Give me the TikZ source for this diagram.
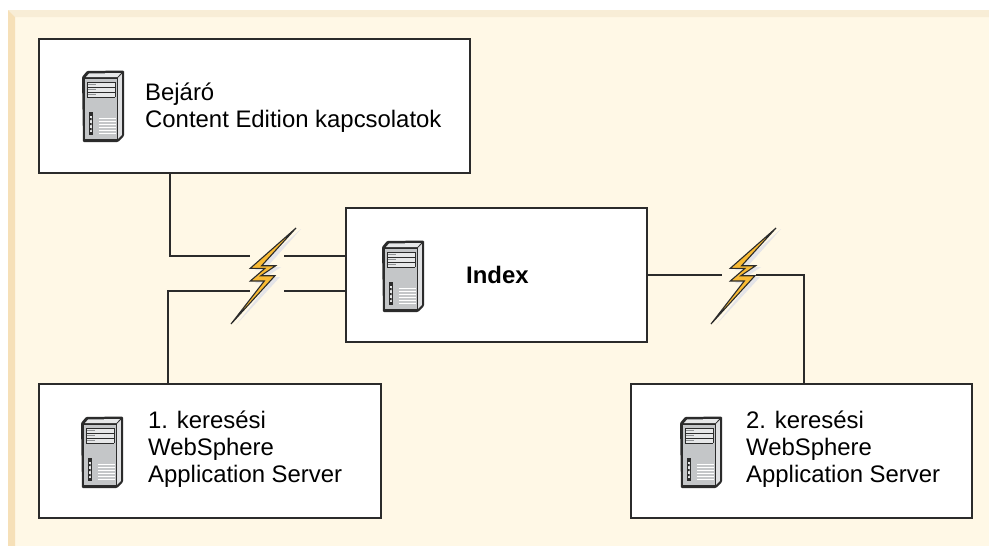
\documentclass[tikz,border=0pt]{standalone}
\usepackage{fontspec}
\setmainfont{Liberation Sans}
\definecolor{bgc}{HTML}{FFF8E6}
\definecolor{bevl}{HTML}{F6E0B8}
\definecolor{bevt}{HTML}{F8EDD6}
\definecolor{linec}{HTML}{2B2B2B}
\definecolor{bolt}{HTML}{F9BB35}
\definecolor{boltsh}{HTML}{E4E4E8}
\definecolor{srv}{HTML}{C4C6C8}
\definecolor{srvl}{HTML}{E6E7E8}
\definecolor{srvd}{HTML}{8E9092}
\tikzset{
  box/.style={draw=linec,line width=2.2pt,fill=white,minimum width=#1,inner sep=0pt,outer sep=0pt,minimum height=134pt,anchor=north west},
  link/.style={draw=linec,line width=1.8pt},
  lbl/.style={align=left,anchor=north west,inner sep=0pt,font=\fontsize{23.9}{27}\selectfont,text=black},
  serverpic/.pic={
    \fill[linec,rounded corners=1pt] (0,6)--(5,0)--(42,-0.5)--(42,65)--(36,71)--(1,71)--cycle;
    \fill[srv] (3,8)--(34.5,8)--(34.5,68)--(3,68)--cycle;
    \fill[srvl] (4,6)--(7,2.5)--(39,2)--(35.5,6)--cycle;
    \fill[srvl!80!srv] (36,7)--(39.8,3)--(39.8,64)--(36,68)--cycle;
    \fill[srvl] (5,11)--(33,11)--(33,26)--(5,26)--cycle;
    \foreach \yy in {11,16,21,26}{\draw[linec,line width=.9pt] (5,\yy)--(33,\yy);}
    \draw[linec,line width=.6pt] (5,11)--(5,26) (33,11)--(33,26);
    \foreach \yy in {13.5,18.5,23.5}{\draw[srvd,line width=1.8pt] (6,\yy)--(14,\yy);}
    \fill[linec] (6.5,41)--(10.5,41)--(10.5,64)--(6.5,64)--cycle;
    \fill[srvl] (7.5,45)--(9.5,45)--(9.5,61)--(7.5,61)--cycle;
    \fill[linec] (7.5,47) rectangle (9.5,49) (7.5,52) rectangle (9.5,54) (7.5,57) rectangle (9.5,59);
    \foreach \yy in {47,50,53,56,59,62}{\draw[white,line width=.9pt] (17,\yy)--(34,\yy);}
  },
  boltpic/.pic={
    \fill[boltsh] (5,1)--(-41,42)--(-26,42)--(-41,55)--(-27,55)--(-60,97)--(-16,49)--(-30,49)--(-15,39)--(-29,39)--cycle;
    \filldraw[draw=linec,fill=bolt,line width=1.1pt,line join=miter,miter limit=6] (0,0)--(-45.7,40.3)--(-31,40.3)--(-45.7,53)--(-31.7,53)--(-65,96)--(-21,47.7)--(-35,47.7)--(-20.3,37.7)--(-34.3,37.7)--cycle;
  }
}
\begin{document}
\begin{tikzpicture}[x=1pt,y=-1pt]
\useasboundingbox (0,0) rectangle (989,546);
\fill[white] (0,0) rectangle (989,546);
\fill[bgc] (8,10) rectangle (989,546);
\fill[bevt] (8,10)--(989,10)--(989,17)--(15,17)--cycle;
\fill[bevl] (8,10)--(15,17)--(15,546)--(8,546)--cycle;

\coordinate (a1) at (250,256);
\coordinate (a2) at (284,256);
\coordinate (b1) at (250,291);
\coordinate (b2) at (284,291);
\coordinate (c1) at (722,275);
\coordinate (c2) at (756,275);

\node[box=431pt] (crawler) at (39,39) {};
\node[box=301pt] (index) at (346,208) {};
\node[box=342pt] (search1) at (39,384) {};
\node[box=341pt] (search2) at (631,384) {};

\draw[link] (crawler.south -| 170,173) |- (a1);
\draw[link] (a2) -- (a2 -| index.west);
\draw[link] (search1.north -| 168,384) |- (b1);
\draw[link] (b2) -- (b2 -| index.west);
\draw[link] (c1 -| index.east) -- (c1);
\draw[link] (c2) -| (search2.north -| 804,384);

\pic at (296,228) {boltpic};
\pic at (776,228) {boltpic};

\pic at (82,71) {serverpic};
\pic at (382,241) {serverpic};
\pic at (81,417) {serverpic};
\pic at (680,417) {serverpic};

\node[lbl] (t1) at (145,83) {Bejáró\\Content Edition kapcsolatok};
\node[lbl,font=\fontsize{23.9}{27}\selectfont\bfseries] (t2) at (466,266) {Index};
\node[lbl] (t3) at (148,411) {1. keresési\\WebSphere\\Application Server};
\node[lbl] (t4) at (746,411) {2. keresési\\WebSphere\\Application Server};
\end{tikzpicture}
\end{document}
